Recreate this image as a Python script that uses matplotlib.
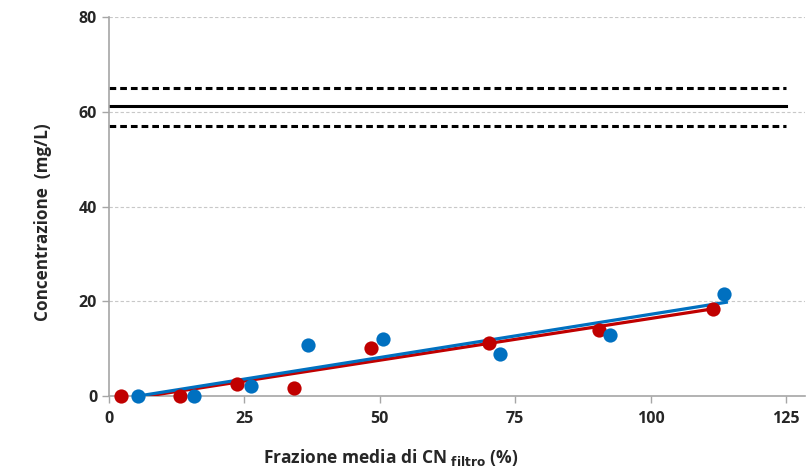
import matplotlib.pyplot as plt

plt.rcParams['font.family'] = ['Open Sans', 'DejaVu Sans']

# dati
red_x = [2.2, 13.1, 23.7, 34.2, 48.4, 70.1, 90.4, 111.5]
red_y = [0.0, 0.0, 2.5, 1.7, 10.1, 11.2, 13.9, 18.4]
blue_x = [5.4, 15.7, 26.2, 36.8, 50.6, 72.3, 92.6, 113.5]
blue_y = [0.0, 0.0, 2.1, 10.8, 12.0, 8.9, 12.9, 21.5]

# rette di regressione (estremi)
red_fit_x = [5.4, 111.5]
red_fit_y = [-0.3, 18.4]
blue_fit_x = [5.4, 114.0]
blue_fit_y = [0.0, 19.8]

# limite e banda
ref_level = 61.2
band_low, band_high = 57.0, 65.0

x_ticks = [0, 25, 50, 75, 100, 125]
y_ticks = [0, 20, 40, 60, 80]

RED = '#C00000'
BLUE = '#0070C0'
TXT = '#262626'

fig = plt.figure(figsize=(8.07, 4.76), dpi=100)
ax = fig.add_axes([0.135, 0.168, 0.863, 0.796])

for yv in y_ticks[1:]:
    ax.axhline(yv, color='#c8c8c8', lw=0.8, ls=(0, (3, 2)), zorder=0)

ax.plot([0, 125], [ref_level, ref_level], color='black', lw=2.2)
ax.plot([0, 125], [band_high, band_high], color='black', lw=2.2, ls=(0, (2.2, 1.3)))
ax.plot([0, 125], [band_low, band_low], color='black', lw=2.2, ls=(0, (2.2, 1.3)))

ax.plot(red_fit_x, red_fit_y, color=RED, lw=2.3, zorder=3)
ax.plot(blue_fit_x, blue_fit_y, color=BLUE, lw=2.3, zorder=3)
ax.scatter(red_x, red_y, s=105, color=RED, zorder=4, linewidths=0)
ax.scatter(blue_x, blue_y, s=105, color=BLUE, zorder=4, linewidths=0)

ax.set_xlim(0, 128.6)
ax.set_ylim(0, 80)
ax.set_xticks(x_ticks)
ax.set_yticks(y_ticks)

for s in ['top', 'right']:
    ax.spines[s].set_visible(False)
for s in ['left', 'bottom']:
    ax.spines[s].set_color('#a6a6a6')
    ax.spines[s].set_linewidth(1.2)

ax.tick_params(axis='both', colors='#a6a6a6', labelcolor=TXT, labelsize=11.5, length=5, width=1)
ax.tick_params(axis='x', pad=6)
for lbl in ax.get_xticklabels() + ax.get_yticklabels():
    lbl.set_fontweight('bold')

ax.set_xlabel('Frazione media di CN $_{\\mathbf{filtro}}$ (%)', fontsize=12.5, fontweight='bold', color=TXT)
ax.set_ylabel('Concentrazione  (mg/L)', fontsize=12.3, fontweight='bold', color=TXT)
ax.xaxis.set_label_coords(0.404, -0.135)
ax.yaxis.set_label_coords(-0.082, 0.459)

for coll in ax.collections:
    coll.set_clip_on(False)

fig.savefig('out.png', dpi=100)
